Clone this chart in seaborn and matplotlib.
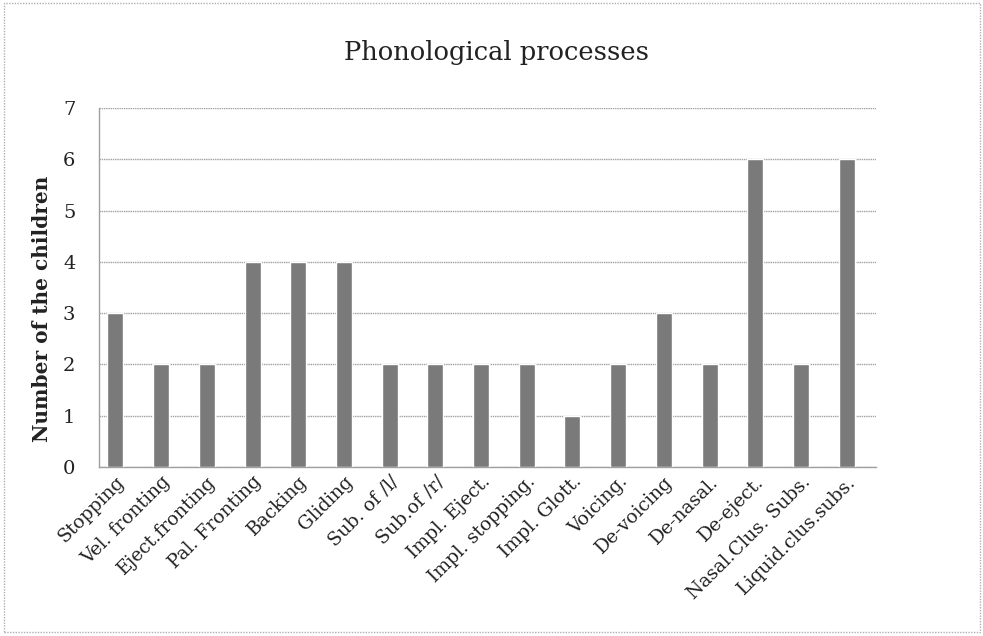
import numpy as np
import pandas as pd
import seaborn as sns
import matplotlib.pyplot as plt
from matplotlib.patches import Rectangle

# --------------------------- DATA ---------------------------
processes = ['Stopping', 'Vel. fronting', 'Eject.fronting', 'Pal. Fronting', 'Backing',
             'Gliding', 'Sub. of /l/', 'Sub.of /r/', 'Impl. Eject.', 'Impl. stopping.',
             'Impl. Glott.', 'Voicing.', 'De-voicing', 'De-nasal.', 'De-eject.',
             'Nasal.Clus. Subs.', 'Liquid.clus.subs.']
children = [3, 2, 2, 4, 4, 4, 2, 2, 2, 2, 1, 2, 3, 2, 6, 2, 6]
y_ticks = [0, 1, 2, 3, 4, 5, 6, 7]

df = pd.DataFrame({'process': processes, 'children': children})

# --------------------------- STYLE ---------------------------
sns.set_style('white')
plt.rcParams['font.family'] = ['DejaVu Serif']

fig = plt.figure(figsize=(9.83, 6.36), dpi=100)
ax = fig.add_axes([0.1007, 0.2657, 0.7903, 0.5643])

sns.barplot(data=df, x='process', y='children', color='#7a7a7a',
            width=0.35, saturation=1, ax=ax, zorder=3)

# --------------------------- AXES ---------------------------
ax.set_ylim(0, 7)
ax.set_yticks(y_ticks)
ax.set_xlim(-0.36, len(processes) - 0.36)
ax.yaxis.grid(True, color='#a0a0a0', linewidth=1, linestyle=(0, (1, 0.6)), zorder=0)
ax.set_axisbelow(True)

for side in ['top', 'right']:
    ax.spines[side].set_visible(False)
for side in ['left', 'bottom']:
    ax.spines[side].set_color('#a0a0a0')
    ax.spines[side].set_linewidth(1)

ax.tick_params(axis='y', length=0, pad=17, labelsize=14, labelcolor='#222222')
ax.tick_params(axis='x', length=0, pad=4, labelsize=13.5, labelcolor='#222222')
plt.setp(ax.get_xticklabels(), rotation=45, ha='right', va='top', rotation_mode='anchor')

ax.set_xlabel('')
ax.set_ylabel('Number of the children', fontsize=14.5, fontweight='bold', color='#222222')
ax.yaxis.set_label_coords(-0.06, 0.44)

fig.text(0.505, 0.918, 'Phonological processes', ha='center', va='center',
         fontsize=18.5, color='#222222')

# dotted border around the chart
fig.patches.append(Rectangle((0.004, 0.006), 0.993, 0.99, transform=fig.transFigure,
                             fill=False, edgecolor='#b0b0b0', linewidth=1,
                             linestyle=(0, (1, 1))))

fig.savefig('out.png', dpi=100)
plt.close()
